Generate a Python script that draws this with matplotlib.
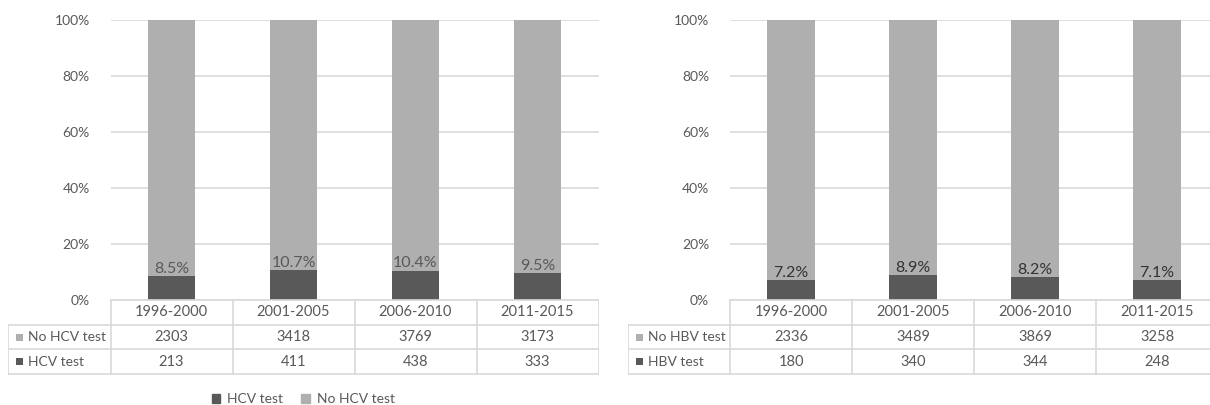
import matplotlib
matplotlib.use("Agg")
import matplotlib.pyplot as plt
from matplotlib.patches import Rectangle
import numpy as np

periods = ["1996-2000", "2001-2005", "2006-2010", "2011-2015"]
hcv_test = [213, 411, 438, 333]
no_hcv_test = [2303, 3418, 3769, 3173]
hbv_test = [180, 340, 344, 248]
no_hbv_test = [2336, 3489, 3869, 3258]
yticks = [0, 20, 40, 60, 80, 100]

plt.rcParams['font.family'] = ['Lato', 'DejaVu Sans']

W, H = 1210, 405
fig = plt.figure(figsize=(12.1, 4.05), dpi=100)

DARK = '#595959'
LIGHT = '#afafaf'
GRID = '#d9d9d9'
TXT = '#595959'
FS = 10


def px_rect(x0, y0, x1, y1):
    return [x0 / W, 1 - y1 / H, (x1 - x0) / W, (y1 - y0) / H]


def panel(x_label, x0, x1, test, notest, name, pct_color, legend):
    n = len(periods)
    x = np.arange(n)
    test = np.array(test, dtype=float)
    notest = np.array(notest, dtype=float)
    tot = test + notest
    frac_t = test / tot * 100
    frac_n = notest / tot * 100

    ax = fig.add_axes(px_rect(x0, 20, x1, 300))
    ax.bar(x, frac_t, width=0.39, color=DARK, zorder=3)
    ax.bar(x, frac_n, bottom=frac_t, width=0.39, color=LIGHT, zorder=3)
    ax.set_xlim(-0.5, n - 0.5)
    ax.set_ylim(0, 100)
    ax.set_yticks(yticks)
    ax.set_yticklabels([f"{v}%" for v in yticks])
    ax.yaxis.grid(True, color=GRID, lw=1.2)
    ax.set_axisbelow(True)
    for s in ax.spines.values():
        s.set_visible(False)
    ax.tick_params(axis='y', length=0, pad=15, colors=TXT, labelsize=FS)
    ax.set_xticks([])
    for xi, f in zip(x, frac_t):
        ax.annotate(f"{f:.1f}%", (xi, f), xytext=(0, 0.3), textcoords='offset points',
                    ha='center', va='bottom', color=pct_color, fontsize=11.5, zorder=4)

    # data table
    colw = (x1 - x0) / n
    xl = -0.5 - (x0 - x_label) / colw
    tax = fig.add_axes(px_rect(x_label, 299, x1, 375))
    tax.set_xlim(xl, n - 0.5)
    tax.set_ylim(375, 299)
    tax.axis('off')
    lw = 1.2
    tax.plot([-0.5, n - 0.5], [300, 300], color=GRID, lw=lw)
    for yy in (325, 349, 374):
        tax.plot([xl, n - 0.5], [yy, yy], color=GRID, lw=lw)
    tax.plot([xl, xl], [325, 374], color=GRID, lw=lw)
    for i in range(n + 1):
        tax.plot([i - 0.5, i - 0.5], [300, 374], color=GRID, lw=lw)
    for i in range(n):
        tax.text(i, 312.5, periods[i], ha='center', va='center', color=TXT, fontsize=10.5)
        tax.text(i, 337, f"{int(notest[i])}", ha='center', va='center', color=TXT, fontsize=10.5)
        tax.text(i, 361.5, f"{int(test[i])}", ha='center', va='center', color=TXT, fontsize=10.5)
    rows = [(337, LIGHT, f"No {name} test"), (361.5, DARK, f"{name} test")]
    for yc, col, lab in rows:
        tax.add_patch(Rectangle((xl + 8 / colw, yc - 3.5), 7 / colw, 7, color=col, lw=0))
        tax.text(xl + 19.5 / colw, yc, lab, ha='left', va='center', color=TXT, fontsize=FS)

    if legend:
        handles = [Rectangle((0, 0), 1, 1, color=DARK), Rectangle((0, 0), 1, 1, color=LIGHT)]
        fig.legend(handles, [f"{name} test", f"No {name} test"], ncol=2, frameon=False,
                   loc='center', bbox_to_anchor=((x_label + x1) / 2 / W, 1 - 399 / H),
                   fontsize=FS, handlelength=0.6, handleheight=0.6, handletextpad=0.5,
                   columnspacing=1.3, labelcolor=TXT)


panel(8, 110.5, 598.5, hcv_test, no_hcv_test, "HCV", '#595959', True)
panel(628, 730, 1218, hbv_test, no_hbv_test, "HBV", '#333333', False)

fig.savefig("out.png", dpi=100)
